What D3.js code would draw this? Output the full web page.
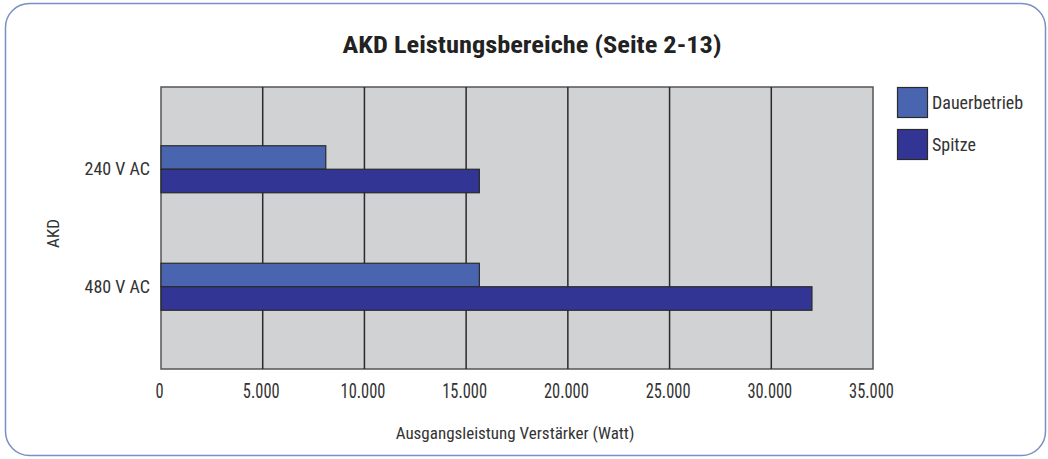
<!DOCTYPE html>
<html>
<head>
<meta charset="utf-8">
<script src="https://cdn.jsdelivr.net/npm/d3@7"></script>
<style>
  body { margin: 0; background: #fff; }
  text { font-family: "Roboto Condensed", "Liberation Sans Narrow", "DejaVu Sans Condensed", sans-serif; fill: #333; }
</style>
</head>
<body>
<div id="chart"></div>
<script>
// Chart data
var categories = ["240 V AC", "480 V AC"];
var seriesNames = ["Dauerbetrieb", "Spitze"];
var dauerbetrieb = [8100, 15650];
var spitze = [15650, 32000];
var xTicks = [0, 5000, 10000, 15000, 20000, 25000, 30000, 35000];
var colors = ["#4a65b0", "#333594"];

var svgWidth = 1048;
var svgHeight = 459;

var chartMargin = { top: 87, right: 175, bottom: 90, left: 161 };
var chartWidth = 873 - chartMargin.left;
var chartHeight = 369 - chartMargin.top;

// stretch or squeeze a text selection horizontally
function squeeze(sel, ratio) {
  sel.each(function() {
    var len = this.getComputedTextLength();
    d3.select(this)
      .attr("textLength", len * ratio)
      .attr("lengthAdjust", "spacingAndGlyphs");
  });
}

var svg = d3.select("#chart")
  .append("svg")
  .attr("width", svgWidth)
  .attr("height", svgHeight);

// rounded frame
svg.append("rect")
  .attr("x", 5.5)
  .attr("y", 3.5)
  .attr("width", 1040)
  .attr("height", 452)
  .attr("rx", 24)
  .attr("fill", "none")
  .attr("stroke", "#7891c2")
  .attr("stroke-width", 1.5);

svg.append("text")
  .attr("x", 532)
  .attr("y", 53)
  .attr("text-anchor", "middle")
  .style("font-size", "24px")
  .style("font-weight", "bold")
  .style("fill", "#222")
  .text("AKD Leistungsbereiche (Seite 2-13)")
  .call(squeeze, 1.1);

var chartGroup = svg.append("g")
  .attr("transform", `translate(${chartMargin.left}, ${chartMargin.top})`);

var xScale = d3.scaleLinear()
  .domain([0, 35000])
  .range([0, chartWidth]);

var yBand = d3.scaleBand()
  .domain(categories)
  .range([0, chartHeight])
  .paddingInner(0.6)
  .paddingOuter(0.5);

var ySub = d3.scaleBand()
  .domain(seriesNames)
  .range([0, yBand.bandwidth()]);

// plot background
chartGroup.append("rect")
  .attr("width", chartWidth)
  .attr("height", chartHeight)
  .attr("fill", "#d1d2d4")
  .attr("stroke", "#555")
  .attr("stroke-width", 1.5);

// vertical grid lines
chartGroup.selectAll(".grid")
  .data(xTicks.slice(1, -1))
  .enter()
  .append("line")
  .attr("x1", d => xScale(d))
  .attr("x2", d => xScale(d))
  .attr("y1", 0)
  .attr("y2", chartHeight)
  .attr("stroke", "#2a2a2a")
  .attr("stroke-width", 1.5);

var rows = categories.map((c, i) => ({ cat: c, values: [dauerbetrieb[i], spitze[i]] }));

var groups = chartGroup.selectAll(".row")
  .data(rows)
  .enter()
  .append("g")
  .attr("transform", d => `translate(0, ${yBand(d.cat)})`);

groups.selectAll("rect")
  .data(d => d.values.map((v, j) => ({ name: seriesNames[j], value: v, color: colors[j] })))
  .enter()
  .append("rect")
  .attr("x", 0)
  .attr("y", d => ySub(d.name))
  .attr("width", d => xScale(d.value))
  .attr("height", ySub.bandwidth())
  .attr("fill", d => d.color)
  .attr("stroke", "#2a2a2a")
  .attr("stroke-width", 1.2);

// x axis labels
var bottomAxis = d3.axisBottom(xScale)
  .tickValues(xTicks)
  .tickSize(0)
  .tickPadding(15)
  .tickFormat(d => d3.format(",")(d).replace(/,/g, "."));

chartGroup.append("g")
  .attr("transform", `translate(0, ${chartHeight})`)
  .call(bottomAxis)
  .call(g => g.select(".domain").remove())
  .selectAll("text")
  .style("font-size", "20px")
  .style("font-family", null)
  .attr("dx", -2)
  .call(squeeze, 0.82);

// y axis labels
var leftAxis = d3.axisLeft(yBand)
  .tickSize(0)
  .tickPadding(11);

chartGroup.append("g")
  .call(leftAxis)
  .call(g => g.select(".domain").remove())
  .selectAll("text")
  .style("font-size", "18px");

svg.selectAll(".tick text").attr("font-family", null);

chartGroup.append("text")
  .attr("transform", "rotate(-90)")
  .attr("x", -146.5)
  .attr("y", -102.5)
  .attr("text-anchor", "middle")
  .style("font-size", "17px")
  .text("AKD");

chartGroup.append("text")
  .attr("x", chartWidth / 2 - 2)
  .attr("y", chartHeight + 70)
  .attr("text-anchor", "middle")
  .style("font-size", "17px")
  .text("Ausgangsleistung Verstärker (Watt)");

// legend
var legend = svg.selectAll(".legend")
  .data(seriesNames)
  .enter()
  .append("g")
  .attr("transform", (d, i) => `translate(897.5, ${87.5 + i * 42})`);

legend.append("rect")
  .attr("width", 30)
  .attr("height", 30)
  .attr("fill", (d, i) => colors[i])
  .attr("stroke", "#2a2a2a")
  .attr("stroke-width", 1.2);

legend.append("text")
  .attr("x", 34.5)
  .attr("y", 21)
  .style("font-size", "18px")
  .text(d => d);
</script>
</body>
</html>
